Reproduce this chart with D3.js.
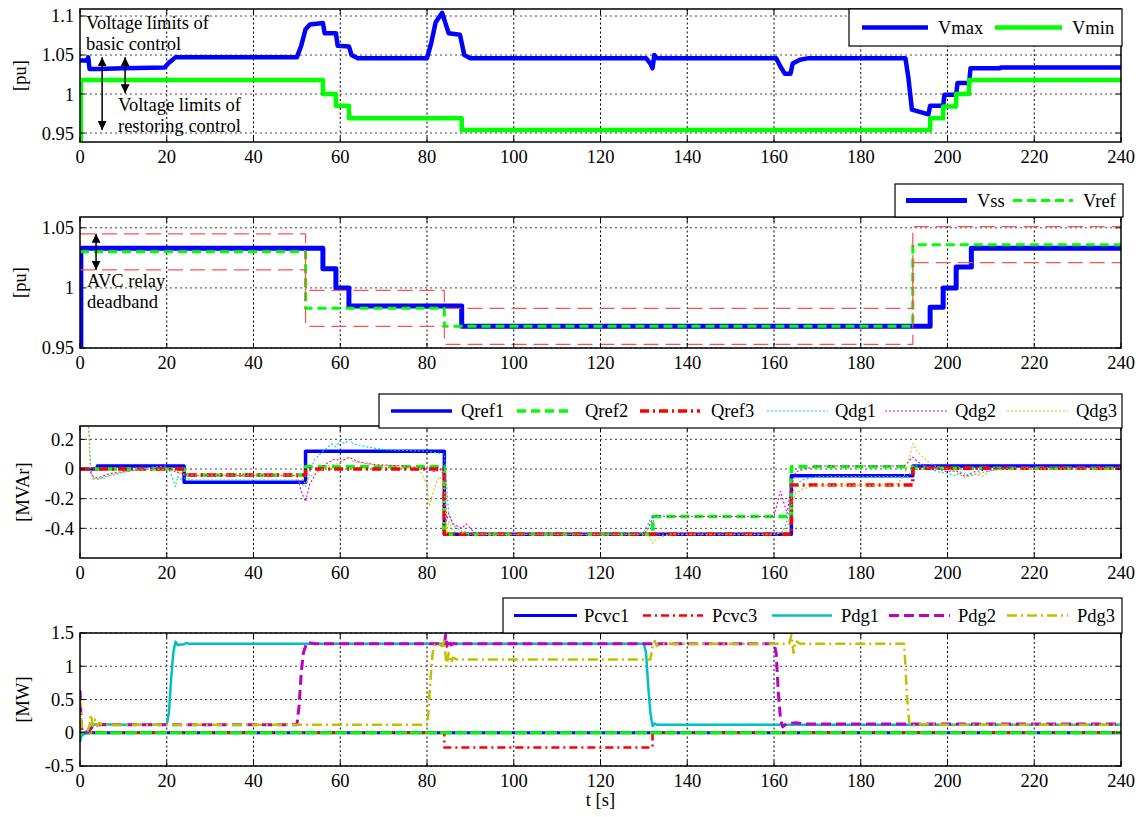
<!DOCTYPE html>
<html>
<head>
<meta charset="utf-8">
<script src="https://cdn.jsdelivr.net/npm/d3@7"></script>
<style>
  body { margin:0; background:#fff; }
  text { font-family:"Liberation Serif","Times New Roman",serif; fill:#000; font-size:18.5px; }
</style>
</head>
<body>
<svg id="chart" width="1144" height="817"></svg>
<script>
// ---- data -------------------------------------------------------------
const T_TICKS = [0,20,40,60,80,100,120,140,160,180,200,220,240];

// panel 1: voltage limits [pu]
const vmaxPts = [[0,1.043],[1.6,1.043],[1.9,1.047],[2.2,1.032],[4,1.032],[10,1.033],[19.5,1.034],[20.5,1.04],[22,1.047],[50,1.047],[51,1.062],[52,1.083],[53,1.089],[56,1.091],[56.4,1.078],[59,1.078],[59.4,1.062],[62,1.061],[62.6,1.05],[64,1.046],[80,1.046],[81,1.066],[82,1.092],[83.5,1.104],[84.3,1.09],[85,1.078],[87.6,1.076],[88.6,1.05],[90,1.046],[130.5,1.046],[131.5,1.039],[132,1.033],[132.4,1.05],[133,1.046],[160.5,1.046],[161.5,1.035],[162.5,1.026],[163.8,1.026],[164.3,1.039],[166,1.044],[168,1.046],[190.3,1.046],[191,1.02],[191.8,0.98],[193,0.978],[195.6,0.974],[196,0.985],[199,0.985],[199.3,0.999],[202,0.999],[202.3,1.014],[205,1.014],[205.3,1.033],[212,1.033],[212.3,1.034],[240,1.034]];
const vminT = [0, 0.2, 56, 59, 62, 88, 196, 199, 202, 205];
const vminV = [0.938, 1.018, 1.0, 0.985, 0.969, 0.954, 0.969, 0.984, 1.0, 1.018];

// panel 2: substation voltage and AVC reference [pu]
const vssT = [0, 0.2, 56, 59, 62, 88, 196, 199, 202, 205.5];
const vssV = [0.95, 1.033, 1.016, 1.0, 0.985, 0.968, 0.984, 1.0, 1.0175, 1.033];
const vrefT = [0, 52, 84, 192];
const vrefV = [1.030, 0.983, 0.968, 1.036];
const dbUpV = [1.045, 0.998, 0.983, 1.051];
const dbLoV = [1.015, 0.968, 0.953, 1.021];

// panel 3: reactive power [MVAr]
const qref1T = [0, 4, 24, 52, 84, 164, 192];
const qref1V = [0, 0.02, -0.09, 0.12, -0.44, -0.045, 0.02];
const qref2T = [0, 24, 52, 84, 132, 164, 192];
const qref2V = [0, -0.04, 0.016, -0.44, -0.32, 0.016, 0.005];
const qref3T = [0, 24, 52, 84, 164, 192];
const qref3V = [0, -0.04, 0, -0.44, -0.108, 0.005];
const qdg1Pts = [[0,0],[0.1,0.29],[2,0.29],[2.5,0],[3,-0.06],[4,-0.07],[6,-0.05],[9,-0.03],[12,-0.01],[16,0.01],[20,0.02],[21,-0.03],[22,-0.12],[22.5,-0.05],[23,-0.07],[24,-0.06],[26,-0.075],[30,-0.075],[50,-0.075],[51,-0.1],[52,-0.12],[53,-0.02],[54,0.06],[56,0.12],[58,0.17],[59,0.15],[60,0.19],[61,0.17],[62,0.2],[63,0.17],[66,0.15],[70,0.13],[80,0.12],[82,0.11],[84,0.1],[84.5,-0.1],[85,-0.3],[86,-0.38],[88,-0.42],[90,-0.43],[93,-0.44],[129,-0.44],[130,-0.42],[131,-0.37],[132,-0.31],[132.5,-0.42],[134,-0.45],[136,-0.44],[160,-0.44],[162,-0.43],[163,-0.35],[164,-0.2],[165,-0.1],[167,-0.07],[170,-0.05],[191,-0.05],[192,0.02],[194,0.03],[196,0.0],[198,-0.02],[200,-0.03],[202,-0.045],[203,-0.02],[205,-0.05],[207,-0.03],[210,-0.01],[215,0.01],[240,0.01]];
const qdg2Pts = [[0,0],[2,0],[3,-0.05],[4,-0.06],[7,-0.03],[12,-0.01],[20,0.01],[21,0],[22,-0.02],[24,-0.03],[26,-0.045],[50,-0.045],[51,-0.15],[52,-0.22],[53,-0.1],[55,0.0],[57,0.04],[59,0.07],[60,0.05],[62,0.08],[64,0.05],[68,0.03],[75,0.02],[80,0.0],[82,-0.02],[83,0.0],[84,-0.05],[84.5,-0.35],[85,-0.3],[86,-0.37],[88,-0.4],[89,-0.37],[91,-0.43],[94,-0.44],[130,-0.44],[131,-0.4],[132,-0.33],[133,-0.31],[135,-0.32],[160,-0.32],[161,-0.2],[161.5,-0.15],[162,-0.2],[163,-0.3],[164,-0.12],[165,-0.02],[167,0.0],[170,0.02],[190,0.02],[191,0.05],[192,0.08],[193,0.05],[195,0.02],[198,0.0],[200,-0.02],[202,-0.01],[204,-0.05],[206,-0.02],[210,0.0],[215,0.01],[240,0.01]];
const qdg3Pts = [[0,0],[0.05,0.29],[2,0.29],[2.3,0],[3,-0.07],[4,-0.06],[5,-0.07],[8,-0.03],[12,-0.01],[20,0.0],[21,-0.01],[22,0.0],[23,-0.03],[24,-0.04],[50,-0.04],[51,-0.06],[52,-0.1],[53,-0.05],[55,-0.02],[57,0.02],[60,0.04],[62,0.08],[63,0.05],[65,0.04],[70,0.02],[78,0.01],[80,-0.1],[80.5,-0.25],[81,-0.2],[82,-0.1],[83,-0.05],[84,-0.1],[84.5,-0.44],[85,-0.35],[86,-0.42],[88,-0.43],[90,-0.44],[131,-0.44],[132,-0.5],[133,-0.47],[135,-0.45],[137,-0.44],[160,-0.44],[162,-0.42],[163,-0.42],[164,-0.25],[165,-0.16],[167,-0.13],[170,-0.11],[188,-0.11],[190,-0.05],[191,0.05],[192,0.17],[193,0.12],[195,0.06],[197,0.02],[200,0.0],[202,-0.02],[204,-0.06],[206,-0.03],[208,-0.05],[210,-0.01],[215,0.0],[240,0.0]];

// panel 4: active power [MW]
const pcvc1Pts = [[0,0],[240,0]];
const pcvc2Pts = [[0,0],[240,0]];
const pcvc3T = [0, 84, 132];
const pcvc3V = [0, -0.22, 0];
const pdg1Pts = [[0,-0.14],[0.3,-0.05],[1,-0.02],[2,0],[2.5,0.08],[3,0.12],[5,0.13],[8,0.12],[20,0.12],[20.5,0.3],[21,0.8],[21.5,1.2],[22,1.37],[22.5,1.32],[24,1.33],[24.5,1.35],[25,1.34],[130,1.34],[130.5,1.2],[131,0.7],[131.5,0.3],[132,0.1],[132.5,0.14],[133,0.12],[240,0.12]];
const pdg2Pts = [[0,0.64],[0.3,0.1],[0.6,0],[2,0.02],[3,0.1],[4,0.12],[50,0.12],[50.5,0.4],[51,0.9],[51.5,1.2],[52,1.3],[52.5,1.36],[54,1.34],[84,1.34],[84.3,1.47],[84.6,1.3],[85,1.4],[85.5,1.32],[86,1.34],[160,1.34],[160.5,1.2],[161,0.6],[161.5,0.2],[162,0.09],[163,0.14],[165,0.15],[167,0.13],[240,0.13]];
const pdg3Pts = [[0,0.52],[0.3,0.2],[0.6,0],[1.5,0],[2.2,0.1],[2.5,0.27],[3,0.1],[3.5,0.2],[4,0.1],[4.5,0.15],[5,0.12],[80,0.12],[80.3,0.3],[80.8,0.8],[81.3,1.2],[81.8,1.33],[82.5,1.34],[83.5,1.3],[84,1.38],[84.5,1.0],[85,1.2],[85.5,1.05],[86,1.13],[87,1.1],[131.5,1.1],[132,1.3],[132.5,1.38],[133,1.3],[134,1.34],[163.5,1.34],[164,1.47],[164.5,1.2],[165,1.38],[166,1.34],[190,1.34],[190.3,1.0],[190.7,0.5],[191.2,0.15],[191.6,0.1],[193,0.13],[200,0.12],[240,0.12]];

// ---- helpers ----------------------------------------------------------
const svg = d3.select("#chart");
const x = d3.scaleLinear().domain([0,240]).range([80,1121]);
const steps = (ts, vs) => ts.map((t,i)=>[t,vs[i]]).concat([[240, vs[vs.length-1]]]);

const defs = svg.append("defs");
defs.append("marker").attr("id","arrow").attr("viewBox","0 0 10 10")
  .attr("refX",10).attr("refY",5).attr("markerWidth",9).attr("markerHeight",9)
  .attr("markerUnits","userSpaceOnUse").attr("orient","auto-start-reverse")
  .append("path").attr("d","M0,0 L10,5 L0,10 z").attr("fill","#000");

function panel(cfg) {
  const y = d3.scaleLinear().domain(cfg.domain).range([cfg.bottom, cfg.top]);
  const g = svg.append("g");
  const clipId = "clip-" + cfg.name;
  defs.append("clipPath").attr("id",clipId).append("rect")
    .attr("x",x(0)).attr("y",cfg.top).attr("width",x(240)-x(0)).attr("height",cfg.bottom-cfg.top);

  // dotted grid
  g.selectAll(".vg").data(T_TICKS.slice(1,-1)).enter().append("line")
    .attr("x1",d=>x(d)).attr("x2",d=>x(d)).attr("y1",cfg.top).attr("y2",cfg.bottom)
    .attr("stroke","#000").attr("stroke-width",1).attr("stroke-dasharray","2,2.5");
  g.selectAll(".hg").data(cfg.ticks).enter().append("line")
    .attr("x1",x(0)).attr("x2",x(240)).attr("y1",d=>y(d)).attr("y2",d=>y(d))
    .attr("stroke","#444").attr("stroke-width",1).attr("stroke-dasharray","2,3");

  // series
  const plot = g.append("g").attr("clip-path",`url(#${clipId})`);
  cfg.series.forEach(s => {
    const line = d3.line().x(d=>x(d[0])).y(d=>y(d[1]))
      .curve(s.step ? d3.curveStepAfter : d3.curveLinear);
    plot.append("path").datum(s.pts).attr("d",line)
      .attr("fill","none").attr("stroke",s.color).attr("stroke-width",s.width)
      .attr("stroke-dasharray",s.dash || null).attr("stroke-linejoin","round");
  });

  // box + inner ticks
  g.append("rect").attr("x",x(0)).attr("y",cfg.top).attr("width",x(240)-x(0))
    .attr("height",cfg.bottom-cfg.top).attr("fill","none").attr("stroke","#000").attr("stroke-width",1.5);
  T_TICKS.forEach(t => {
    g.append("line").attr("x1",x(t)).attr("x2",x(t)).attr("y1",cfg.bottom).attr("y2",cfg.bottom-5).attr("stroke","#000");
    g.append("line").attr("x1",x(t)).attr("x2",x(t)).attr("y1",cfg.top).attr("y2",cfg.top+5).attr("stroke","#000");
  });
  cfg.ticks.forEach(v => {
    g.append("line").attr("x1",x(0)).attr("x2",x(0)+5).attr("y1",y(v)).attr("y2",y(v)).attr("stroke","#000");
    g.append("line").attr("x1",x(240)).attr("x2",x(240)-5).attr("y1",y(v)).attr("y2",y(v)).attr("stroke","#000");
  });

  // tick labels
  g.selectAll(".xl").data(T_TICKS).enter().append("text")
    .attr("x",d=>x(d)).attr("y",cfg.bottom+21).attr("text-anchor","middle").text(d=>d);
  g.selectAll(".yl").data(cfg.ticks).enter().append("text")
    .attr("x",x(0)-6).attr("y",d=>y(d)).attr("dy","0.35em").attr("text-anchor","end")
    .text(d=>String(+d.toFixed(2)));
  g.append("text").attr("transform",`translate(${cfg.titleX},${(cfg.top+cfg.bottom)/2}) rotate(-90)`)
    .attr("text-anchor","middle").attr("dy","0.35em").text(cfg.title);

  // legend
  const L = cfg.legend;
  g.append("rect").attr("x",L.x).attr("y",L.y).attr("width",L.w).attr("height",L.h)
    .attr("fill","#fff").attr("stroke","#000").attr("stroke-width",1.2);
  const ly = L.y + L.h/2;
  L.items.forEach(it => {
    const s = cfg.series.find(d=>d.name===it.name);
    g.append("line").attr("x1",it.x0).attr("x2",it.x1).attr("y1",ly).attr("y2",ly)
      .attr("stroke",s.color).attr("stroke-width",s.width).attr("stroke-dasharray",s.dash || null);
    g.append("text").attr("x",it.tx).attr("y",ly).attr("dy","0.35em").text(it.name);
  });
  return y;
}

function arrow(y, t, v1, v2) {
  svg.append("line").attr("x1",x(t)).attr("x2",x(t)).attr("y1",y(v1)).attr("y2",y(v2))
    .attr("stroke","#000").attr("stroke-width",1.5)
    .attr("marker-start","url(#arrow)").attr("marker-end","url(#arrow)");
}
function note(px, py, lines) {
  lines.forEach((s,i) => svg.append("text").attr("x",px).attr("y",py+i*21).text(s));
}

// ---- panel 1 ----------------------------------------------------------
const y1 = panel({
  name:"v", top:9, bottom:142, domain:[0.9385,1.109], ticks:[0.95,1,1.05,1.1], title:"[pu]", titleX:20,
  series:[
    {name:"Vmax", pts:vmaxPts, color:"#0000ff", width:4.5},
    {name:"Vmin", pts:steps(vminT,vminV), step:true, color:"#00ff00", width:4.5}
  ],
  legend:{x:849, y:9, w:273, h:37, items:[
    {name:"Vmax", x0:862, x1:928, tx:938},
    {name:"Vmin", x0:995, x1:1062, tx:1072}
  ]}
});
arrow(y1, 5.1, 1.047, 0.954);
arrow(y1, 10.4, 1.047, 1.001);
note(86, 29, ["Voltage limits of","basic control"]);
note(118, 111, ["Voltage limits of","restoring control"]);

// ---- panel 2 ----------------------------------------------------------
const y2 = panel({
  name:"vss", top:217, bottom:348, domain:[0.95,1.059], ticks:[0.95,1,1.05], title:"[pu]", titleX:20,
  series:[
    {name:"Vss", pts:steps(vssT,vssV), step:true, color:"#0000ff", width:5},
    {name:"Vref", pts:steps(vrefT,vrefV), step:true, color:"#00ff00", width:3, dash:"9,5"},
    {name:"dbUp", pts:steps(vrefT,dbUpV), step:true, color:"#ff5050", width:1.2, dash:"15,7"},
    {name:"dbLo", pts:steps(vrefT,dbLoV), step:true, color:"#ff5050", width:1.2, dash:"15,7"}
  ],
  legend:{x:895, y:184, w:228, h:33, items:[
    {name:"Vss", x0:906, x1:967, tx:977},
    {name:"Vref", x0:1013, x1:1073, tx:1083}
  ]}
});
arrow(y2, 3.7, 1.045, 1.015);
note(87, 287, ["AVC relay","deadband"]);

// ---- panel 3 ----------------------------------------------------------
panel({
  name:"q", top:426, bottom:558, domain:[-0.6,0.29], ticks:[-0.4,-0.2,0,0.2], title:"[MVAr]", titleX:23,
  series:[
    {name:"Qref1", pts:steps(qref1T,qref1V), step:true, color:"#0000ff", width:3.5},
    {name:"Qref2", pts:steps(qref2T,qref2V), step:true, color:"#00ff00", width:3.5, dash:"9,5"},
    {name:"Qref3", pts:steps(qref3T,qref3V), step:true, color:"#ff0000", width:3.5, dash:"9,4,2,4"},
    {name:"Qdg1", pts:qdg1Pts, color:"#00cccc", width:1.1, dash:"2,2"},
    {name:"Qdg2", pts:qdg2Pts, color:"#dd00dd", width:1.1, dash:"2,2"},
    {name:"Qdg3", pts:qdg3Pts, color:"#c8c800", width:1.1, dash:"2,2"}
  ],
  legend:{x:379, y:394, w:743, h:34, items:[
    {name:"Qref1", x0:391, x1:452, tx:461},
    {name:"Qref2", x0:517, x1:572, tx:585},
    {name:"Qref3", x0:640, x1:700, tx:711},
    {name:"Qdg1", x0:767, x1:828, tx:835},
    {name:"Qdg2", x0:885, x1:948, tx:955},
    {name:"Qdg3", x0:1007, x1:1068, tx:1076}
  ]}
});

// ---- panel 4 ----------------------------------------------------------
panel({
  name:"p", top:633, bottom:766, domain:[-0.5,1.5], ticks:[-0.5,0,0.5,1,1.5], title:"[MW]", titleX:23,
  series:[
    {name:"Pcvc1", pts:pcvc1Pts, color:"#0000ff", width:3},
    {name:"Pcvc3", pts:steps(pcvc3T,pcvc3V), step:true, color:"#ff0000", width:2.5, dash:"8,4,2,4"},
    {name:"Pcvc2", pts:pcvc2Pts, color:"#00ff00", width:3, dash:"12,3"},
    {name:"Pdg1", pts:pdg1Pts, color:"#00c0c0", width:2.5},
    {name:"Pdg2", pts:pdg2Pts, color:"#c000c0", width:3, dash:"10,5"},
    {name:"Pdg3", pts:pdg3Pts, color:"#c0c000", width:2.5, dash:"10,4,2,4"}
  ],
  legend:{x:503, y:598, w:619, h:35, items:[
    {name:"Pcvc1", x0:514, x1:577, tx:584},
    {name:"Pcvc3", x0:643, x1:703, tx:712},
    {name:"Pdg1", x0:772, x1:832, tx:841},
    {name:"Pdg2", x0:889, x1:950, tx:958},
    {name:"Pdg3", x0:1007, x1:1068, tx:1077}
  ]}
});

svg.append("text").attr("x",x(120)).attr("y",806).attr("text-anchor","middle").text("t [s]");
</script>
</body>
</html>
